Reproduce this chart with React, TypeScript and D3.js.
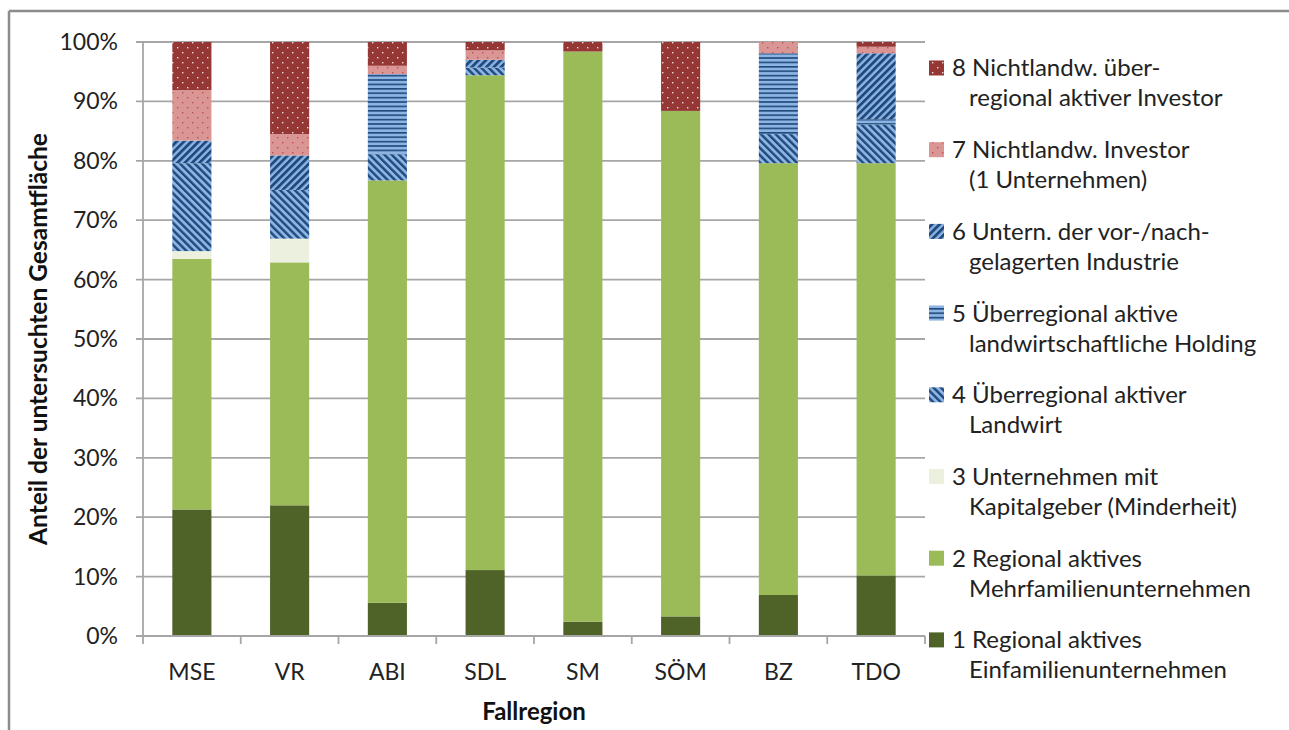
import React from 'react';
import * as d3 from 'd3';

const categories = ['MSE', 'VR', 'ABI', 'SDL', 'SM', 'SÖM', 'BZ', 'TDO'];

// Anteil in % je Fallregion, Reihe 1 unten bis Reihe 8 oben
const s1 = [21.3, 22.0, 5.6, 11.1, 2.4, 3.3, 6.9, 10.2];
const s2 = [42.2, 40.9, 71.1, 83.3, 96.0, 85.1, 72.7, 69.4];
const s3 = [1.3, 4.0, 0, 0, 0, 0, 0, 0];
const s4 = [14.8, 8.2, 4.4, 1.3, 0, 0, 4.9, 6.5];
const s5 = [0, 0, 13.5, 0, 0, 0, 13.6, 0.9];
const s6 = [3.8, 5.8, 0, 1.3, 0, 0, 0, 11.1];
const s7 = [8.5, 3.6, 1.4, 1.6, 0, 0, 1.9, 1.1];
const s8 = [8.1, 15.5, 4.0, 1.4, 1.6, 11.6, 0, 0.8];

const seriesKeys = ['s1', 's2', 's3', 's4', 's5', 's6', 's7', 's8'];
const seriesValues = [s1, s2, s3, s4, s5, s6, s7, s8];

const legendLabels = [
  ['1 Regional aktives', 'Einfamilienunternehmen'],
  ['2 Regional aktives', 'Mehrfamilienunternehmen'],
  ['3 Unternehmen mit', 'Kapitalgeber (Minderheit)'],
  ['4 Überregional aktiver', 'Landwirt'],
  ['5 Überregional aktive', 'landwirtschaftliche Holding'],
  ['6 Untern. der vor-/nach-', 'gelagerten Industrie'],
  ['7 Nichtlandw. Investor', '(1 Unternehmen)'],
  ['8 Nichtlandw. über-', 'regional aktiver Investor'],
];

const yTicks = [0, 10, 20, 30, 40, 50, 60, 70, 80, 90, 100];

const fills = [
  '#4f6228',
  '#9bbb59',
  '#ebf1de',
  'url(#pDown)',
  'url(#pHoriz)',
  'url(#pUp)',
  'url(#pDotsPink)',
  'url(#pDotsRed)',
];

const FONT = 'Lato, Calibri, sans-serif';
const DARKBLUE = '#1f4a7e';
const LIGHTBLUE = '#8db4e2';

const rows = categories.map((c, i) => {
  const r: any = { cat: c };
  seriesKeys.forEach((k, j) => (r[k] = seriesValues[j][i]));
  return r;
});

export default function App() {
  const W = 1289;
  const H = 730;
  const plot = { left: 143, right: 925, top: 42, bottom: 636 };

  const x = d3.scaleBand<string>().domain(categories).range([plot.left, plot.right]).paddingInner(0.6).paddingOuter(0.3);
  const xBoundary = d3.scaleLinear().domain([0, categories.length]).range([plot.left, plot.right]);
  const y = d3.scaleLinear().domain([0, 100]).range([plot.bottom, plot.top]);

  const stacked = d3.stack<any>().keys(seriesKeys)(rows);

  const legendTop = 68;
  const legendStep = 81.7;

  return (
    <svg width={W} height={H} style={{ position: 'absolute', left: 0, top: 0, background: '#fff' }}>
      <defs>
        <pattern id="pDotsRed" width="10" height="10" patternUnits="userSpaceOnUse">
          <rect width="10" height="10" fill="#953735" />
          <rect x="2" y="2" width="1.4" height="1.4" fill="#f2dcdb" />
          <rect x="7" y="7" width="1.4" height="1.4" fill="#f2dcdb" />
        </pattern>
        <pattern id="pDotsPink" width="10" height="10" patternUnits="userSpaceOnUse">
          <rect width="10" height="10" fill="#d99694" />
          <rect x="2" y="2" width="1.4" height="1.4" fill="#c0504d" />
          <rect x="7" y="7" width="1.4" height="1.4" fill="#c0504d" />
        </pattern>
        <pattern id="pUp" width="5.2" height="10" patternUnits="userSpaceOnUse" patternTransform="rotate(45)">
          <rect width="5.2" height="10" fill={LIGHTBLUE} />
          <rect width="2.8" height="10" fill={DARKBLUE} />
        </pattern>
        <pattern id="pDown" width="5.2" height="10" patternUnits="userSpaceOnUse" patternTransform="rotate(-45)">
          <rect width="5.2" height="10" fill={LIGHTBLUE} />
          <rect width="2.4" height="10" fill={DARKBLUE} />
        </pattern>
        <pattern id="pHoriz" width="10" height="4.4" patternUnits="userSpaceOnUse">
          <rect width="10" height="4.4" fill={LIGHTBLUE} />
          <rect width="10" height="1.6" fill={DARKBLUE} />
        </pattern>
      </defs>

      {/* chart frame */}
      <line x1={9} y1={11} x2={W} y2={11} stroke="#8c8c8c" strokeWidth={2.5} />
      <line x1={9} y1={11} x2={9} y2={H} stroke="#8c8c8c" strokeWidth={2.5} />

      {/* gridlines and y ticks */}
      {yTicks.map(t => (
        <g key={t}>
          <line x1={plot.left - 7} x2={plot.right} y1={y(t)} y2={y(t)} stroke="#a6a6a6" strokeWidth={1.8} />
          <text x={118} y={y(t)} dy="0.35em" textAnchor="end" fontFamily={FONT} fontSize={23} fill="#222">
            {t}%
          </text>
        </g>
      ))}

      {/* bars */}
      {stacked.map((layer, j) => (
        <g key={layer.key} fill={fills[j]}>
          {layer.map((d, i) =>
            d[1] - d[0] > 0 ? (
              <rect
                key={i}
                x={x(categories[i])}
                width={x.bandwidth()}
                y={y(d[1])}
                height={y(d[0]) - y(d[1])}
              />
            ) : null
          )}
        </g>
      ))}

      {/* axes */}
      <line x1={plot.left} x2={plot.left} y1={plot.top} y2={plot.bottom} stroke="#a6a6a6" strokeWidth={1.8} />
      <line x1={plot.left} x2={plot.right} y1={plot.bottom} y2={plot.bottom} stroke="#a6a6a6" strokeWidth={1.8} />
      {d3.range(categories.length + 1).map(i => (
        <line key={i} x1={xBoundary(i)} x2={xBoundary(i)} y1={plot.bottom} y2={plot.bottom + 8} stroke="#a6a6a6" strokeWidth={1.8} />
      ))}
      {categories.map(c => (
        <text key={c} x={(x(c) as number) + x.bandwidth() / 2} y={672} dy="0.35em" textAnchor="middle" fontFamily={FONT} fontSize={23} fill="#222">
          {c}
        </text>
      ))}

      {/* axis titles */}
      <text x={534} y={712} dy="0.35em" textAnchor="middle" fontFamily={FONT} fontSize={24} fontWeight="bold" fill="#111">
        Fallregion
      </text>
      <text
        transform={`translate(38,${(plot.top + plot.bottom) / 2}) rotate(-90)`}
        dy="0.35em"
        textAnchor="middle"
        fontFamily={FONT}
        fontSize={24.5}
        fontWeight="bold"
        fill="#111"
      >
        Anteil der untersuchten Gesamtfläche
      </text>

      {/* legend, series 8 on top */}
      {legendLabels
        .map((lines, j) => ({ lines, j }))
        .reverse()
        .map(({ lines, j }, k) => {
          const cy = legendTop + k * legendStep;
          return (
            <g key={j}>
              <rect x={929} y={cy - 7.5} width={15} height={15} fill={fills[j]} />
              <text x={952} y={cy} dy="0.35em" fontFamily={FONT} fontSize={24} fill="#222">
                {lines[0]}
              </text>
              <text x={969} y={cy + 30} dy="0.35em" fontFamily={FONT} fontSize={24} fill="#222">
                {lines[1]}
              </text>
            </g>
          );
        })}
    </svg>
  );
}
